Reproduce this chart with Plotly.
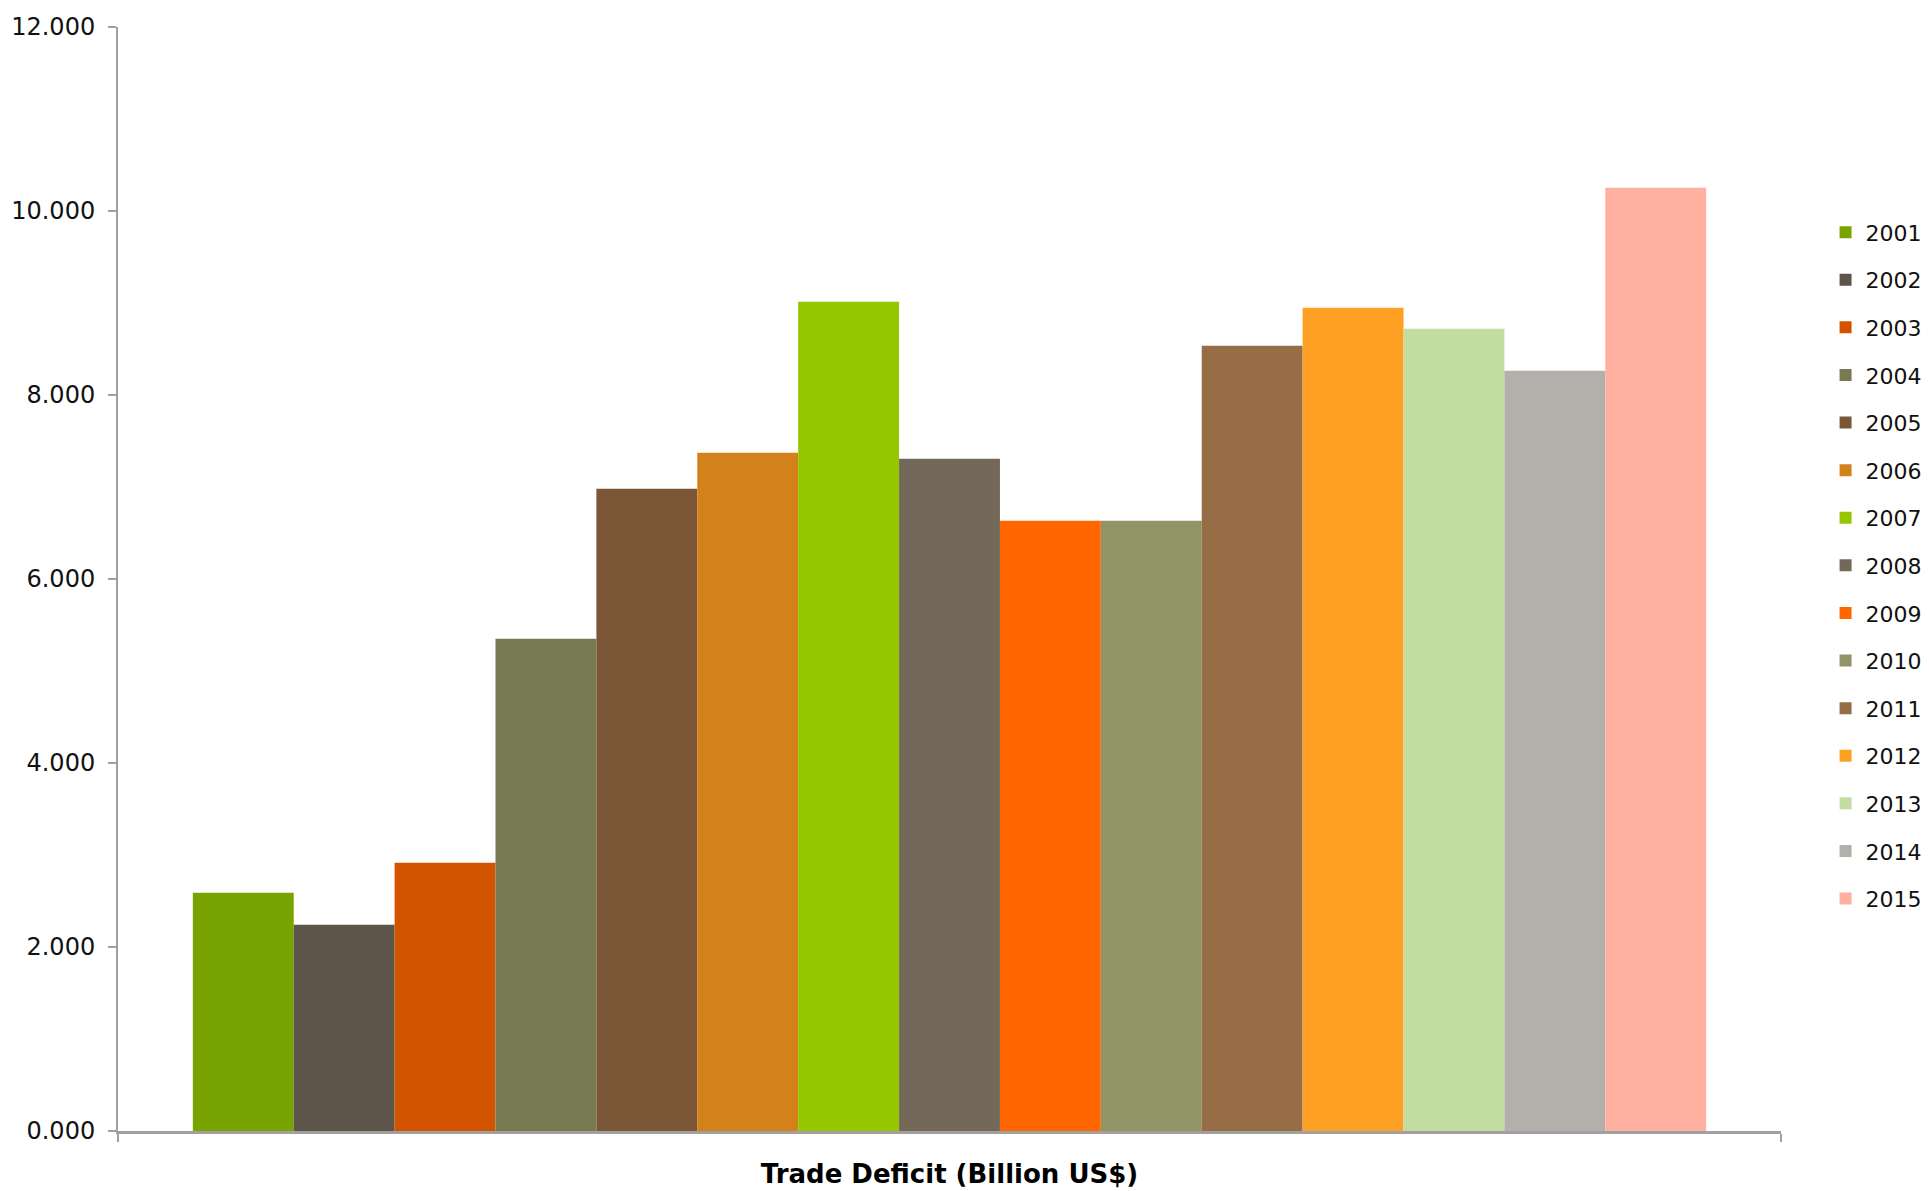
import plotly.graph_objects as go

category = "Trade Deficit (Billion US$)"
years = ["2001", "2002", "2003", "2004", "2005", "2006", "2007", "2008",
         "2009", "2010", "2011", "2012", "2013", "2014", "2015"]
values = [2.590, 2.243, 2.916, 5.351, 6.982, 7.373, 9.014, 7.308,
          6.634, 6.634, 8.536, 8.949, 8.721, 8.264, 10.253]
colors = ["#79A300", "#5D5549", "#D35400", "#787A51", "#7B5737", "#D3821B",
          "#95C600", "#73685A", "#FF6600", "#919466", "#966D44", "#FEA024",
          "#C3DCA0", "#B3AFAA", "#FFB0A0"]
y_ticks = [0, 2, 4, 6, 8, 10, 12]

FONT = "DejaVu Sans"

fig = go.Figure()
for yr, v, c in zip(years, values, colors):
    fig.add_trace(go.Bar(
        x=[category], y=[v], name=yr, marker=dict(color=c, line=dict(width=0)),
        legendgroup=yr,
    ))

fig.update_layout(
    width=1929, height=1191,
    margin=dict(l=118, r=148, t=27, b=60, autoexpand=False),
    paper_bgcolor="white", plot_bgcolor="white",
    barmode="group", bargap=0.09, bargroupgap=0,
    font=dict(family=FONT, color="#111111", size=22),
    showlegend=True,
    legend=dict(
        x=1.0268, xanchor="left", y=0.833, yanchor="top",
        font=dict(family=FONT, size=22, color="#111111"),
        tracegroupgap=16, bgcolor="rgba(0,0,0,0)",
    ),
    xaxis=dict(
        showticklabels=False, ticks="outside", tickson="boundaries",
        ticklen=8, tickcolor="#A0A0A0", tickwidth=1.5,
        showline=True, linecolor="#A0A0A0", linewidth=2.5,
        showgrid=False, zeroline=False,
        title=dict(text="<b>" + category + "</b>",
                   font=dict(family=FONT, size=26, color="#000000"), standoff=33),
    ),
    yaxis=dict(
        range=[0, 12], tickvals=y_ticks, tickformat=".3f",
        ticks="outside", ticklen=8, tickcolor="#A0A0A0", tickwidth=1.5,
        ticklabelstandoff=8,
        showline=True, linecolor="#A0A0A0", linewidth=2,
        showgrid=False, zeroline=False,
        tickfont=dict(family=FONT, size=24, color="#111111"),
    ),
)

fig.write_html("out.html")
